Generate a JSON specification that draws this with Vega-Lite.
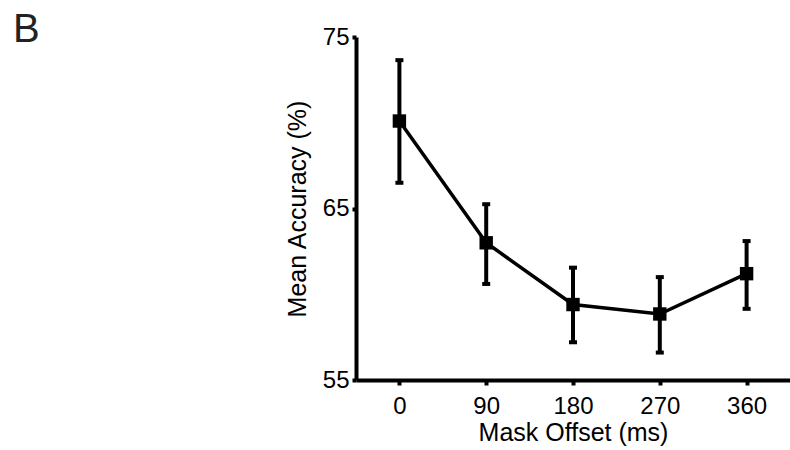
{
  "$schema": "https://vega.github.io/schema/vega-lite/v6.json",
  "autosize": "none",
  "width": 434,
  "height": 343,
  "padding": {"left": 356, "top": 37, "right": 0, "bottom": 70},
  "background": "white",
  "config": {
    "view": {"stroke": null},
    "font": "Liberation Sans",
    "axis": {"grid": false, "domainColor": "black", "tickColor": "black", "labelColor": "black", "titleColor": "black", "labelFont": "Liberation Sans", "titleFont": "Liberation Sans", "titleFontWeight": "normal", "domainWidth": 4, "tickWidth": 4}
  },
  "title": {"text": "B", "anchor": "start", "frame": "group", "baseline": "top", "dx": -343, "dy": 29, "fontSize": 40, "fontWeight": "normal", "font": "Liberation Sans", "color": "#222"},
  "data": {
    "values": [
      {"offset": 0, "acc": 70.1, "lo": 66.5, "hi": 73.65},
      {"offset": 90, "acc": 63.0, "lo": 60.6, "hi": 65.25},
      {"offset": 180, "acc": 59.4, "lo": 57.2, "hi": 61.55},
      {"offset": 270, "acc": 58.85, "lo": 56.6, "hi": 61.0},
      {"offset": 360, "acc": 61.2, "lo": 59.15, "hi": 63.1}
    ]
  },
  "encoding": {
    "x": {"field": "offset", "type": "quantitative", "scale": {"domain": [-45, 405], "nice": false, "zero": false},
      "axis": {"values": [0, 90, 180, 270, 360], "title": "Mask Offset (ms)", "labelFontSize": 24, "titleFontSize": 25, "tickSize": 5, "labelPadding": 9, "titlePadding": 2}}
  },
  "layer": [
    {
      "mark": {"type": "rule", "color": "black", "strokeWidth": 4},
      "encoding": {
        "y": {"field": "lo", "type": "quantitative", "scale": {"domain": [55, 75], "nice": false, "zero": false},
          "axis": {"values": [55, 65, 75], "title": "Mean Accuracy (%)", "labelFontSize": 24, "titleFontSize": 25, "tickSize": 4, "labelPadding": 3, "titlePadding": 12}},
        "y2": {"field": "hi"}
      }
    },
    {
      "mark": {"type": "tick", "orient": "horizontal", "color": "black", "size": 8, "thickness": 4, "opacity": 1},
      "encoding": {
        "y": {"field": "lo", "type": "quantitative"}
      }
    },
    {
      "mark": {"type": "tick", "orient": "horizontal", "color": "black", "size": 8, "thickness": 4, "opacity": 1},
      "encoding": {
        "y": {"field": "hi", "type": "quantitative"}
      }
    },
    {
      "mark": {"type": "line", "color": "black", "strokeWidth": 3.5},
      "encoding": {
        "y": {"field": "acc", "type": "quantitative"}
      }
    },
    {
      "mark": {"type": "square", "color": "black", "opacity": 1, "size": 180},
      "encoding": {
        "y": {"field": "acc", "type": "quantitative"}
      }
    }
  ]
}
